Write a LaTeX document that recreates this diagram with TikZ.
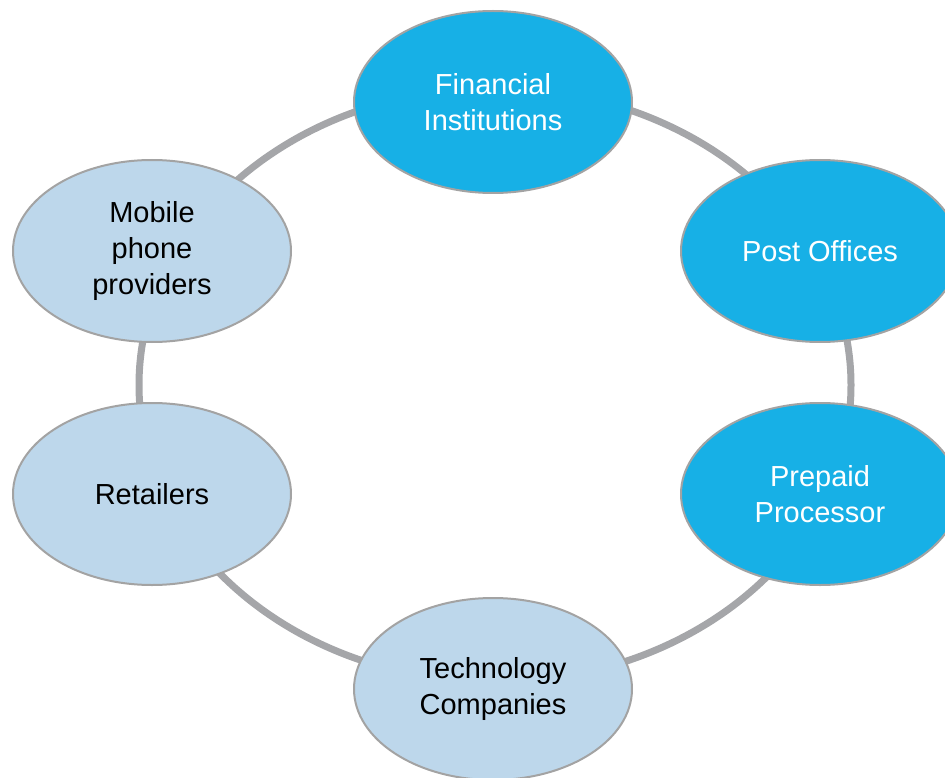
\documentclass[tikz,border=0pt]{standalone}
\usepackage{fontspec}
\setmainfont{Liberation Sans}
\usetikzlibrary{shapes.geometric}
\definecolor{CycleGrey}{HTML}{A5A6A9}
\definecolor{EdgeGrey}{HTML}{A3A3A3}
\definecolor{CoreBlue}{HTML}{17B0E6}
\definecolor{PartnerBlue}{HTML}{BDD7EB}

\begin{document}
\begin{tikzpicture}[
  x=1pt,y=-1pt,
  actor/.style={ellipse,draw=EdgeGrey,line width=2pt,minimum width=278pt,minimum height=182pt,inner sep=0pt,align=center,font=\fontsize{29}{36}\selectfont},
  core/.style={fill=CoreBlue,text=white},
  partner/.style={fill=PartnerBlue,text=black},
]
\useasboundingbox (0,0) rectangle (945,778);
% the ring sits behind all six actors
\coordinate (hub) at (495,385);
\draw[CycleGrey,line width=7pt] (hub) ellipse [x radius=356,y radius=297];

\node[actor,core] (fin) at (493,102) {Financial\\Institutions};
\node[actor,core] (post) at (820,251) {Post Offices};
\node[actor,core] (prepaid) at (820,494) {Prepaid\\Processor};
\node[actor,partner] (tech) at (493,689) {Technology\\Companies};
\node[actor,partner] (retail) at (152,494) {Retailers};
\node[actor,partner] (mobile) at (152,251) {Mobile\\phone\\providers};
\end{tikzpicture}
\end{document}
